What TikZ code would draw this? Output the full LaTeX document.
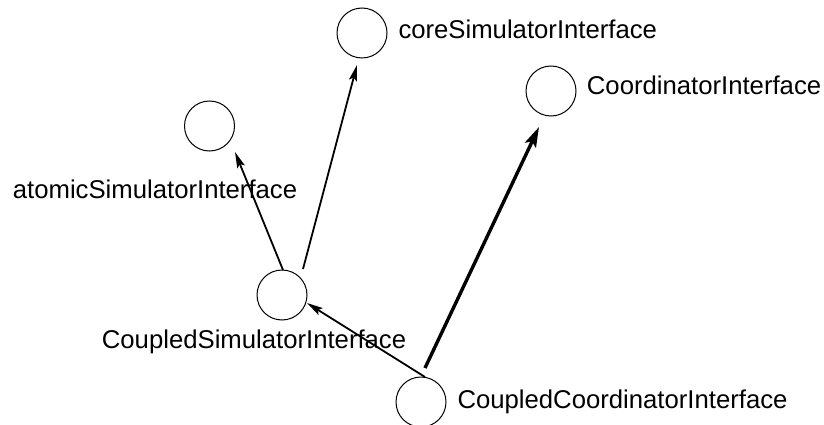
\documentclass[tikz,border=0pt]{standalone}
\usepackage{fontspec}
\setmainfont{Liberation Sans}
\usetikzlibrary{arrows.meta,calc}
\begin{document}
\begin{tikzpicture}[x=1pt,y=-1pt,
  iface/.style={circle,draw,line width=1pt,minimum size=50pt,inner sep=0pt},
  lbl/.style={anchor=base west,inner sep=0pt,font=\fontsize{25.7}{30}\selectfont},
  dep/.style={line width=1.8pt,-{Stealth[length=16pt,width=8pt,inset=3pt]}},
  depthick/.style={line width=3.4pt,-{Stealth[length=20pt,width=12pt,inset=4pt]}}]
\useasboundingbox (0,0) rectangle (824,425);
% interface circles
\node[iface] (core) at (362,33) {};
\node[iface] (atomic) at (209.5,126) {};
\node[iface] (coord) at (551,91) {};
\node[iface] (cs) at (282,295) {};
\node[iface] (cc) at (421,402) {};
% labels
\node[lbl] (coreL) at (398.3,38.3) {coreSimulatorInterface};
\node[lbl] (coordL) at (586.7,95) {CoordinatorInterface};
\node[lbl] (atomicL) at (12.7,198.3) {atomicSimulatorInterface};
\node[lbl] (csL) at (101.7,348.3) {CoupledSimulatorInterface};
\node[lbl] (ccL) at (457.3,408.3) {CoupledCoordinatorInterface};
% inheritance arrows
\draw[dep] ($(cs)+(1,-25)$) -- ($(atomic)+(25.5,26)$);
\draw[dep] ($(cs)+(21,-26)$) -- ($(core)+(-5,32)$);
\draw[depthick] ($(cc)+(4,-34)$) -- ($(coord)+(-12,36)$);
\draw[dep] ($(cc)+(4,-25)$) -- ($(cs)+(25,8)$);
\end{tikzpicture}
\end{document}
